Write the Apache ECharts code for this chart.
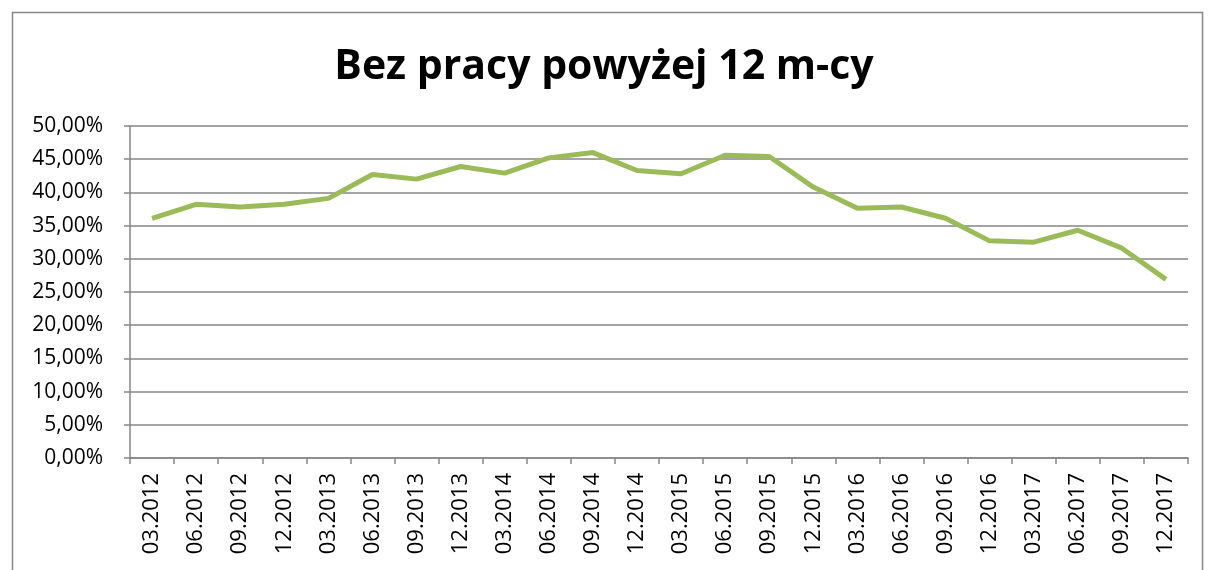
<!DOCTYPE html>
<html>
<head>
<meta charset="utf-8">
<script src="https://cdn.jsdelivr.net/npm/echarts@6/dist/echarts.min.js"></script>
<style>
  html, body { margin: 0; padding: 0; background: #fff; }
  #chart { width: 1208px; height: 570px; }
</style>
</head>
<body>
<div id="chart"></div>
<script>
const chartTitle = 'Bez pracy powyżej 12 m-cy';
const quarters = [
  '03.2012', '06.2012', '09.2012', '12.2012',
  '03.2013', '06.2013', '09.2013', '12.2013',
  '03.2014', '06.2014', '09.2014', '12.2014',
  '03.2015', '06.2015', '09.2015', '12.2015',
  '03.2016', '06.2016', '09.2016', '12.2016',
  '03.2017', '06.2017', '09.2017', '12.2017'
];
const shareLongTerm = [
  36.1, 38.2, 37.8, 38.2,
  39.1, 42.7, 42.0, 43.9,
  42.9, 45.2, 46.0, 43.3,
  42.8, 45.6, 45.4, 40.8,
  37.6, 37.8, 36.1, 32.7,
  32.5, 34.3, 31.6, 26.9
];

const font = 'Open Sans, Noto Sans, sans-serif';
const axisGray = '#868686';

let myChart = echarts.init(document.getElementById('chart'), null, { renderer: 'canvas' });
let option = {
  animation: false,
  title: {
    text: chartTitle,
    left: 'center',
    top: 42,
    textStyle: { fontFamily: font, fontSize: 41, fontWeight: 'bold', color: '#000' }
  },
  graphic: [{
    type: 'rect',
    shape: { x: 12.5, y: 12.5, width: 1190, height: 600 },
    style: { fill: 'none', stroke: axisGray, lineWidth: 1.5 }
  }],
  grid: { left: 130, right: 20, top: 126, bottom: 112 },
  xAxis: {
    type: 'category',
    data: quarters,
    boundaryGap: true,
    axisLine: { lineStyle: { color: axisGray, width: 1.5 } },
    axisTick: { show: true, length: 6, interval: 0, lineStyle: { color: axisGray, width: 1.5 } },
    axisLabel: {
      interval: 0, rotate: 90, margin: 15,
      fontFamily: font, fontSize: 22, color: '#000'
    }
  },
  yAxis: {
    type: 'value',
    min: 0, max: 50, interval: 5,
    axisLine: { show: true, lineStyle: { color: axisGray, width: 1.5 } },
    axisTick: { show: true, length: 6, lineStyle: { color: axisGray, width: 1.5 } },
    splitLine: { lineStyle: { color: axisGray, width: 1.5 } },
    axisLabel: {
      margin: 27,
      fontFamily: font, fontSize: 21, color: '#000',
      formatter: v => v.toFixed(2).replace('.', ',') + '%'
    }
  },
  series: [{
    type: 'line',
    data: shareLongTerm,
    symbol: 'none',
    lineStyle: { color: '#9BBB59', width: 5 },
    itemStyle: { color: '#9BBB59' }
  }]
};
myChart.setOption(option);
</script>
</body>
</html>
